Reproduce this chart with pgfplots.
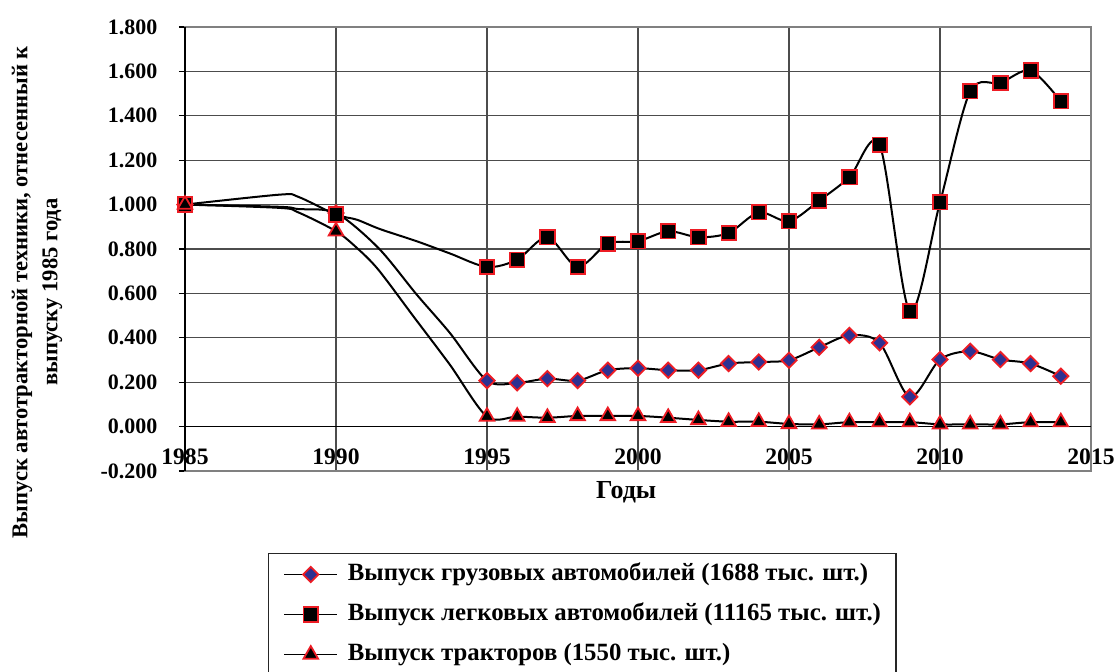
\documentclass[border=0pt]{standalone}
\usepackage{fontspec}
\setmainfont{Liberation Serif}
\usepackage{pgfplots}
\pgfplotsset{compat=1.18}
\definecolor{mred}{RGB}{237,28,36}
\definecolor{mnavy}{RGB}{46,49,146}
\begin{document}
\begin{tikzpicture}
\begin{axis}[
  scale only axis, width=453pt, height=222pt,
  xmin=1985, xmax=2015, ymin=-0.2, ymax=1.8,
  clip=false,
  xtick={1985,1990,1995,2000,2005,2010,2015},
  ytick={-0.2,0,0.2,0.4,0.6,0.8,1.0,1.2,1.4,1.6,1.8},
  grid=major, grid style={black!70, line width=0.6pt},
  axis line style={draw=black!50, line width=0.8pt},
  tick align=outside, ytick pos=left, major tick length=3pt,
  xtick style={draw=none}, ytick style={black, line width=0.6pt},
  /pgf/number format/assume math mode=true,
  /pgf/number format/1000 sep={},
  yticklabel style={/pgf/number format/.cd, fixed, fixed zerofill, precision=3, /tikz/.cd,
     font=\bfseries\fontsize{11}{13}\selectfont, anchor=east, xshift=-7.3pt},
  xticklabel style={font=\bfseries\fontsize{11.8}{13}\selectfont, anchor=base, yshift=6.3pt},
  every axis y label/.style={at={(rel axis cs:0,0.403)}, xshift=-74pt, anchor=center, rotate=90,
     align=center, font=\bfseries\fontsize{11.3}{15}\selectfont},
  every axis x label/.style={at={(rel axis cs:0.487,0)}, anchor=center, yshift=-10.5pt,
     font=\bfseries\fontsize{13}{15}\selectfont},
  ylabel={Выпуск автотракторной техники, отнесенный к\\выпуску 1985 года},
  xlabel={Годы},
  legend style={at={(axis description cs:0.0916,-0.1847)}, anchor=north west,
     draw=black!85, line width=0.7pt, inner xsep=7.5pt, inner ysep=4.5pt,
     nodes={inner sep=0pt, text height=9pt, text depth=2.8pt},
     row sep=8.2pt, column sep=5pt,
     font=\bfseries\fontsize{12.4}{14}\selectfont},
  legend cell align=left,
  legend image code/.code={\draw[#1, line width=0.6pt] (0pt,0pt) -- (26.5pt,0pt); \draw[#1] plot coordinates {(13.25pt,0pt)};},
]
\draw[black, line width=0.8pt] (axis cs:1985,-0.2) -- (axis cs:1985,1.8);
\draw[black, line width=0.8pt] (axis cs:1985,0) -- (axis cs:2015,0);

% trucks
\addplot[black, line width=1pt, smooth, mark=square*,
  mark indices={1,4,8,9,10,11,12,13,14,15,16,17,18,19,20,21,22,23,24,25,26,27},
  mark size=2.7pt, mark options={rotate=45, fill=mnavy, draw=mred, line width=0.9pt, solid}]
coordinates {(1985,1.0) (1988.15,0.99) (1988.75,0.98) (1990,0.962) (1991.4,0.805) (1992.67,0.595) (1993.77,0.422)
 (1995,0.207) (1996,0.197) (1997,0.216) (1998,0.207) (1999,0.254) (2000,0.263) (2001,0.254) (2002,0.254)
 (2003,0.284) (2004,0.291) (2005,0.299) (2006,0.357) (2007,0.411) (2008,0.377) (2009,0.134) (2010,0.302)
 (2011,0.339) (2012,0.302) (2013,0.284) (2014,0.227)};
\addlegendentry{Выпуск грузовых автомобилей (1688 тыс. шт.)}

% cars
\addplot[black, line width=1pt, smooth, mark=square*,
  mark indices={1,4,9,10,11,12,13,14,15,16,17,18,19,20,21,22,23,24,25,26,27,28},
  mark size=3.6pt, mark options={fill=black, draw=mred, line width=0.9pt, solid}]
coordinates {(1985,1.0) (1988.15,1.045) (1988.75,1.035) (1990,0.955) (1990.69,0.932) (1991.45,0.89) (1992.67,0.835) (1993.77,0.78)
 (1995,0.719) (1996,0.752) (1997,0.853) (1998,0.719) (1999,0.824) (2000,0.835) (2001,0.880) (2002,0.853)
 (2003,0.872) (2004,0.965) (2005,0.925) (2006,1.018) (2007,1.123) (2008,1.270) (2009,0.519) (2010,1.010)
 (2011,1.510) (2012,1.548) (2013,1.604) (2014,1.465)};
\addlegendentry{Выпуск легковых автомобилей (11165 тыс. шт.)}

% tractors
\addplot[black, line width=1pt, smooth, mark=triangle*,
  mark indices={1,4,9,10,11,12,13,14,15,16,17,18,19,20,21,22,23,24,25,26,27,28},
  mark size=4.2pt, mark options={fill=black, draw=mred, line width=0.9pt, solid}]
coordinates {(1985,1.0) (1988.15,0.985) (1988.75,0.965) (1990,0.88) (1990.69,0.805) (1991.4,0.707) (1992.6,0.49) (1993.77,0.279)
 (1995,0.045) (1996,0.045) (1997,0.04) (1998,0.048) (1999,0.048) (2000,0.048) (2001,0.04) (2002,0.03)
 (2003,0.022) (2004,0.022) (2005,0.012) (2006,0.01) (2007,0.02) (2008,0.02) (2009,0.02) (2010,0.01)
 (2011,0.01) (2012,0.01) (2013,0.02) (2014,0.02)};
\addlegendentry{Выпуск тракторов (1550 тыс. шт.)}
\end{axis}
\pgfresetboundingbox
\useasboundingbox (-92.5pt,-100.5pt) rectangle (465pt,235.5pt);
\end{tikzpicture}
\end{document}
